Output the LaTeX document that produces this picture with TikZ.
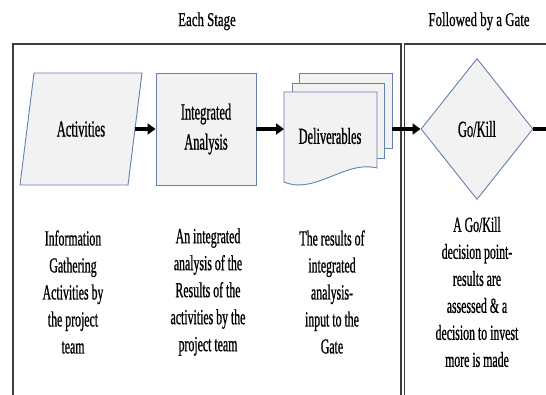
\documentclass[tikz,border=0pt]{standalone}
\usepackage{fontspec}
\setmainfont{Liberation Serif}
\newfontfamily\titlefont[FakeStretch=0.66,FakeBold=0.7]{Liberation Serif}
\newfontfamily\shapefont[FakeStretch=0.54,FakeBold=0.7]{Liberation Serif}
\newfontfamily\notefont[FakeStretch=0.55,FakeBold=0.7]{Liberation Serif}
\usetikzlibrary{shapes.geometric,arrows.meta}
\definecolor{shapefill}{RGB}{242,242,242}
\definecolor{shapeline}{RGB}{100,130,170}
\definecolor{frameline}{RGB}{60,60,60}
\begin{document}
\begin{tikzpicture}[x=1pt,y=-1pt,
  shapebox/.style={draw=shapeline,fill=shapefill,line width=0.9pt,font=\shapefont\fontsize{23}{30}\selectfont,align=center,inner sep=0pt},
  docshape/.style={draw=shapeline,fill=shapefill,line width=0.9pt},
  flow/.style={line width=3.2pt,-{Triangle[length=8pt,width=11pt]}},
  note/.style={font=\notefont\fontsize{21.5}{27}\selectfont,align=center},
  titletext/.style={font=\titlefont\fontsize{19.5}{23}\selectfont,anchor=base},
  frame/.style={draw=frameline,line width=1.2pt}]
\useasboundingbox (0,0) rectangle (546,394);
\clip (0,0) rectangle (546,394);
\fill[white] (0,0) rectangle (546,394);
% frames
\draw[frame] (13,420) -- (13,44) -- (401,44) -- (401,420);
\draw[frame] (404.5,420) -- (404.5,44) -- (560,44);
% titles
\node[titletext] (t1) at (207,26) {Each Stage};
\node[titletext] (t2) at (479,26) {Followed by a Gate};
% parallelogram (input/activities)
\filldraw[docshape] (34,73) -- (142,73) -- (128,185) -- (20,185) -- cycle;
\node[font=\shapefont\fontsize{23}{30}\selectfont,minimum width=108pt,minimum height=112pt,inner sep=0pt] (act) at (81,129) {Activities};
% rectangle
\node[shapebox,rectangle,minimum width=100pt,minimum height=112pt] (ia) at (206,129) {Integrated\\Analysis};
% multi-document
\filldraw[docshape] (299,73) rectangle (392,148);
\filldraw[docshape] (292,83) rectangle (384,158);
\filldraw[docshape] (284,92) -- (377,92) -- (377,168) .. controls (345,160) and (315,195) .. (284,182) -- cycle;
\node[font=\shapefont\fontsize{23}{30}\selectfont] (del) at (330,136) {Deliverables};
\coordinate (delin) at (284,129);
\coordinate (delout) at (392,129);
% gate
\node[shapebox,diamond,aspect=0.8,minimum width=112pt,minimum height=141pt] (gk) at (477,129) {Go/Kill};
\coordinate (exit) at (560,129);
% connectors
\draw[flow] (act.east) -- (ia.west);
\draw[flow] (ia.east) -- (delin);
\draw[flow] (delout) -- (gk.west);
\draw[line width=3.2pt] (gk.east) -- (exit);
% notes
\node[note] (n1) at (73,292) {Information\\Gathering\\Activities by\\the project\\team};
\node[note] (n2) at (208,292) {An integrated\\analysis of the\\Results of the\\activities by the\\project team};
\node[note] (n3) at (332,292) {The results of\\integrated\\analysis-\\input to the\\Gate};
\node[note] (n4) at (477,292) {A Go/Kill\\decision point-\\results are\\assessed \& a\\decision to invest\\more is made};
\end{tikzpicture}
\end{document}
